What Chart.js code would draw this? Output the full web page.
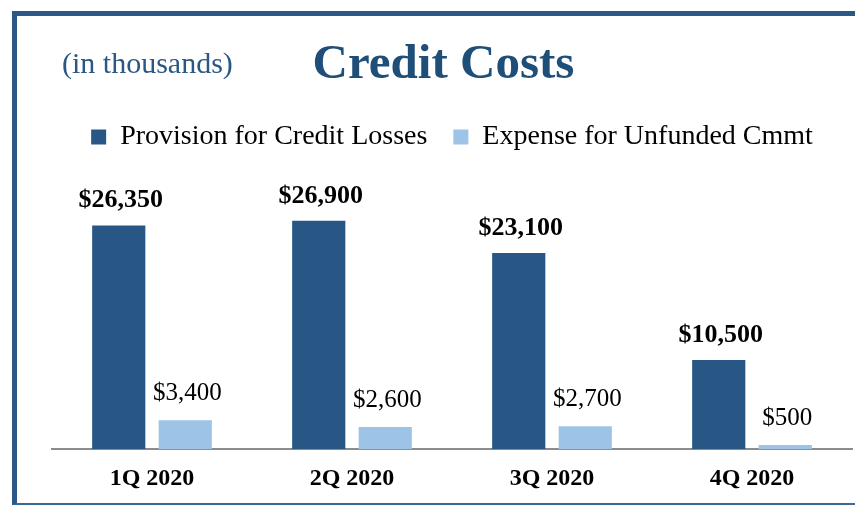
<!DOCTYPE html>
<html>
<head>
<meta charset="utf-8">
<script src="https://cdn.jsdelivr.net/npm/chart.js@4/dist/chart.umd.min.js"></script>
<style>
  html, body { margin:0; padding:0; background:#fff; }
  body { width:855px; height:505px; position:relative; overflow:hidden; font-family:"Liberation Serif", serif; }
  #frame { position:absolute; left:12px; top:11px; width:860px; height:487px; border-top:5px solid #2b5886; border-left:5px solid #2b5886; border-bottom:2px solid #3a6998; pointer-events:none; }
  #sub { position:absolute; left:62px; top:48px; font-size:30px; line-height:30px; color:#2a5783; white-space:nowrap; }
  #title { position:absolute; left:443.5px; top:37px; transform:translateX(-50%); font-size:49px; line-height:49px; font-weight:bold; color:#1f4e79; white-space:nowrap; }
  #wrap { position:absolute; left:0; top:3px; width:855px; height:505px; }
</style>
</head>
<body>
<div id="wrap"><canvas id="c" width="855" height="505"></canvas></div>
<div id="frame"></div>
<div id="sub">(in thousands)</div>
<div id="title">Credit Costs</div>
<script>
const categories = ['1Q 2020', '2Q 2020', '3Q 2020', '4Q 2020'];
const provisionValues = [26350, 26900, 23100, 10500];
const unfundedValues = [3400, 2600, 2700, 500];
const seriesNames = ['Provision for Credit Losses', 'Expense for Unfunded Cmmt'];

const FONT = '"Liberation Serif", serif';

const valueLabels = {
  id: 'valueLabels',
  afterDatasetsDraw(chart) {
    const ctx = chart.ctx;
    ctx.save();
    ctx.textAlign = 'center';
    ctx.textBaseline = 'alphabetic';
    ctx.fillStyle = '#000';
    chart.data.datasets.forEach((ds, di) => {
      const meta = chart.getDatasetMeta(di);
      ctx.font = di === 0 ? 'bold 26px ' + FONT : '25px ' + FONT;
      const gap = di === 0 ? 18 : 20;
      meta.data.forEach((el, i) => {
        const v = ds.data[i];
        const txt = '$' + v.toLocaleString('en-US');
        ctx.fillText(txt, el.x + 2, el.y - gap);
      });
    });
    ctx.restore();
  }
};

new Chart(document.getElementById('c'), {
  type: 'bar',
  data: {
    labels: categories,
    datasets: [
      { label: seriesNames[0], data: provisionValues, backgroundColor: '#285785', categoryPercentage: 0.665, barPercentage: 0.8 },
      { label: seriesNames[1], data: unfundedValues, backgroundColor: '#9dc3e6', categoryPercentage: 0.665, barPercentage: 0.8 }
    ]
  },
  options: {
    responsive: false,
    animation: false,
    layout: { padding: { left: 52, right: 3, top: 94, bottom: 0 } },
    plugins: {
      legend: {
        position: 'top',
        labels: { boxWidth: 15, boxHeight: 15, padding: 26, color: '#000', font: { family: FONT, size: 28 } }
      },
      tooltip: { enabled: false },
      title: { display: false }
    },
    scales: {
      x: {
        grid: { display: false, drawTicks: false },
        border: { display: true, color: '#8c8c8c', width: 2 },
        ticks: { color: '#000', padding: 15, font: { family: FONT, size: 24, weight: 'bold' } }
      },
      y: { display: false, min: 0, max: 33930 }
    }
  },
  plugins: [valueLabels]
});
</script>
</body>
</html>
